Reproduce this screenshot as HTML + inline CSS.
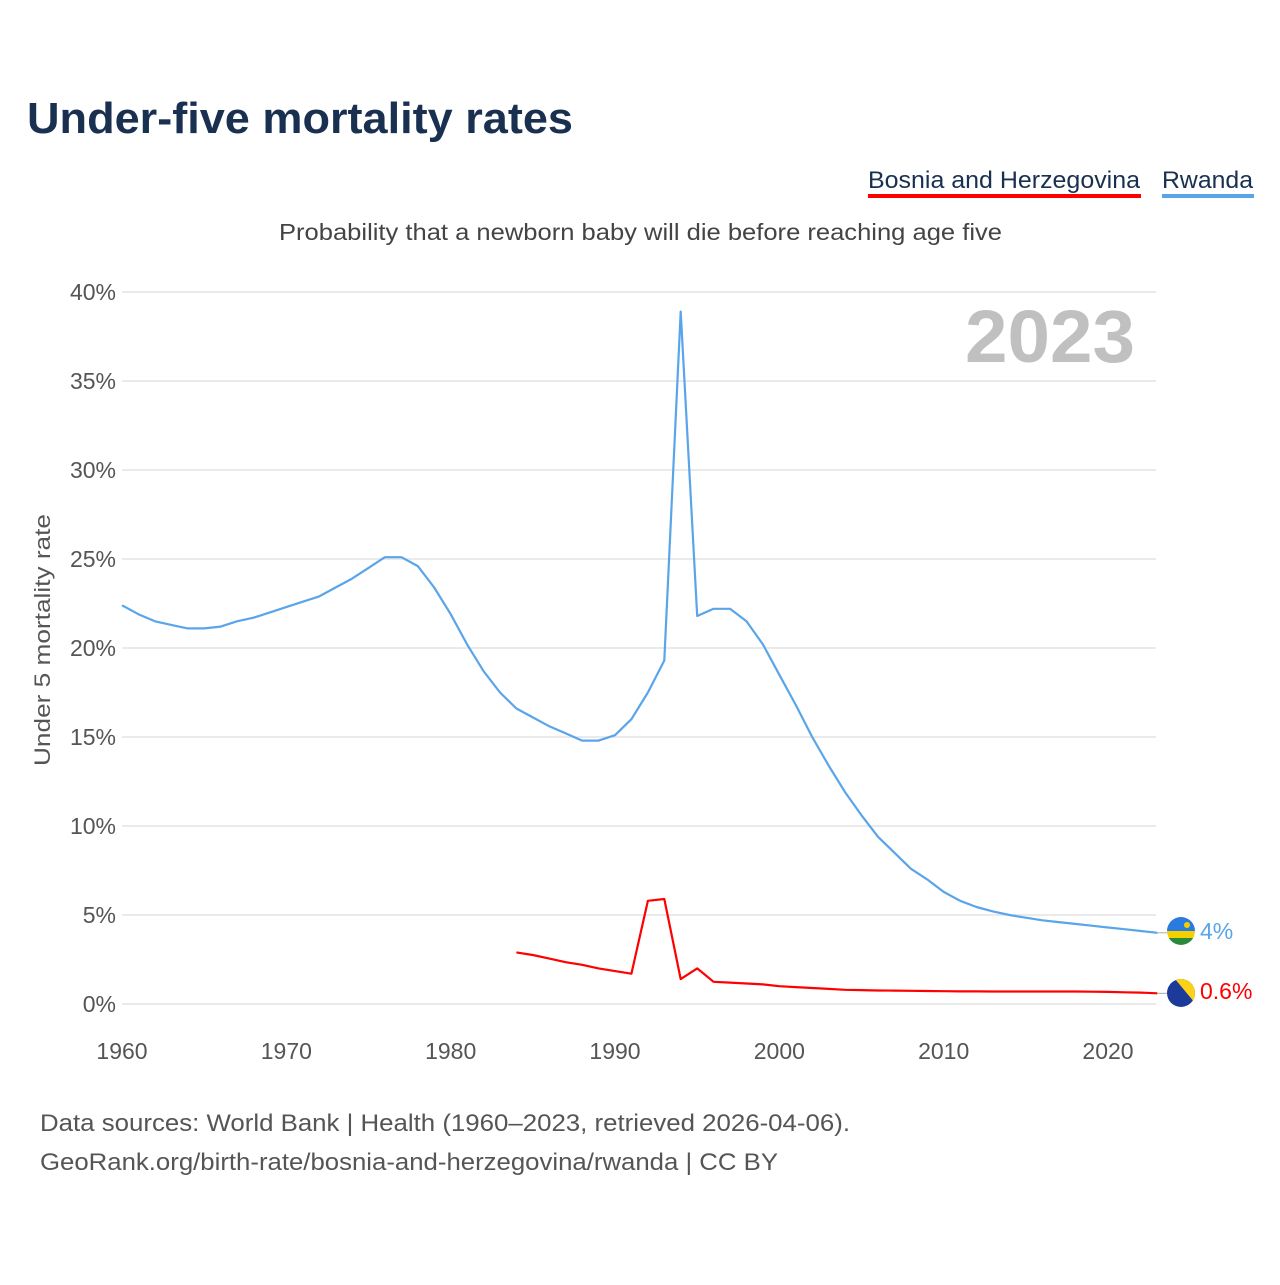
<!DOCTYPE html>
<html><head><meta charset="utf-8"><style>
body{margin:0;background:#fff;font-family:"Liberation Sans",sans-serif;}
svg text{font-family:"Liberation Sans",sans-serif;}
</style></head><body>
<svg width="1280" height="1280" xmlns="http://www.w3.org/2000/svg" id="chart">
<text x="27" y="133" font-size="44" font-weight="bold" fill="#1a3050" textLength="546" lengthAdjust="spacingAndGlyphs">Under-five mortality rates</text>
<g><text x="868" y="188" font-size="24" fill="#1a3050" textLength="272" lengthAdjust="spacingAndGlyphs">Bosnia and Herzegovina</text><rect x="868" y="194" width="273" height="4" fill="#f00"/></g>
<g><text x="1162" y="188" font-size="24" fill="#1a3050" textLength="91" lengthAdjust="spacingAndGlyphs">Rwanda</text><rect x="1162" y="194" width="92" height="4" fill="#5aa5ea"/></g>
<text x="279" y="240" font-size="23" fill="#444" textLength="723" lengthAdjust="spacingAndGlyphs">Probability that a newborn baby will die before reaching age five</text>
<text x="1135" y="362" font-size="74" font-weight="bold" fill="#c0c0c0" text-anchor="end" textLength="170" lengthAdjust="spacingAndGlyphs">2023</text>
<text transform="translate(50,640) rotate(-90)" font-size="22" fill="#555" text-anchor="middle" textLength="252" lengthAdjust="spacingAndGlyphs">Under 5 mortality rate</text>
<g id="grid"></g><g id="xticks"></g><g id="lines"></g>
<g><clipPath id="c1"><circle cx="1181" cy="931" r="14"/></clipPath><g clip-path="url(#c1)"><rect x="1167" y="917" width="28" height="14" fill="#2a7be0"/><rect x="1167" y="931" width="28" height="7" fill="#f5d000"/><rect x="1167" y="938" width="28" height="7" fill="#2a8a3a"/><circle cx="1187" cy="925" r="3" fill="#f5d000"/></g></g>
<g><clipPath id="c2"><circle cx="1181" cy="993" r="14"/></clipPath><g clip-path="url(#c2)"><rect x="1167" y="979" width="28" height="28" fill="#1b3a9a"/><polygon points="1175,979 1195,979 1195,1003" fill="#fcd116"/></g></g>
<text x="1200" y="939" font-size="23" fill="#5aa5ea">4%</text>
<text x="1200" y="999" font-size="23" fill="#f00">0.6%</text>
<text x="40" y="1131" font-size="24" fill="#555" textLength="810" lengthAdjust="spacingAndGlyphs">Data sources: World Bank | Health (1960–2023, retrieved 2026-04-06).</text>
<text x="40" y="1170" font-size="24" fill="#555" textLength="738" lengthAdjust="spacingAndGlyphs">GeoRank.org/birth-rate/bosnia-and-herzegovina/rwanda | CC BY</text>
</svg>
<script>
const yTicks=[0,5,10,15,20,25,30,35,40];
const xTicks=[1960,1970,1980,1990,2000,2010,2020];
const rwandaYears=[];for(let y=1960;y<=2023;y++)rwandaYears.push(y);
const rwandaValues=[22.4,21.9,21.5,21.3,21.1,21.1,21.2,21.5,21.7,22.0,22.3,22.6,22.9,23.4,23.9,24.5,25.1,25.1,24.6,23.4,21.9,20.2,18.7,17.5,16.6,16.1,15.6,15.2,14.8,14.8,15.1,16.0,17.5,19.3,38.9,21.8,22.2,22.2,21.5,20.2,18.5,16.8,15.0,13.4,11.9,10.6,9.4,8.5,7.6,7.0,6.3,5.8,5.45,5.2,5.0,4.85,4.7,4.6,4.5,4.4,4.3,4.2,4.1,4.0];
const bosniaYears=[];for(let y=1984;y<=2023;y++)bosniaYears.push(y);
const bosniaValues=[2.9,2.75,2.55,2.35,2.2,2.0,1.85,1.7,5.8,5.9,1.4,2.0,1.25,1.2,1.15,1.1,1.0,0.95,0.9,0.85,0.8,0.78,0.76,0.75,0.74,0.73,0.72,0.71,0.71,0.7,0.7,0.7,0.7,0.7,0.7,0.69,0.68,0.66,0.64,0.6];
const NS="http://www.w3.org/2000/svg";
const xS=v=>122+(v-1960)*(1108-122)/60;
const yS=v=>1004-v*(1004-292)/40;
function mk(t,a,p){const e=document.createElementNS(NS,t);for(const k in a)e.setAttribute(k,a[k]);document.getElementById(p).appendChild(e);return e;}
yTicks.forEach(t=>{
 const l=mk('line',{x1:122,x2:1156,y1:yS(t),y2:yS(t),stroke:'#e4e4e4','stroke-width':1.5},'grid');
 
 
 const tx=mk('text',{x:116,y:yS(t)+8,'font-size':23,fill:'#555','text-anchor':'end'},'grid');
 tx.textContent=t+'%';
 
 
});
xTicks.forEach(t=>{
 const tx=mk('text',{x:xS(t),y:1059,'font-size':23,fill:'#555','text-anchor':'middle'},'xticks');
 tx.textContent=t;
 
 
});
function line(xs,vs,c,name){
 const d=xs.map((x,i)=>(i?'L':'M')+xS(x).toFixed(1)+','+yS(vs[i]).toFixed(1)).join('');
 const p=mk('path',{d:d,fill:'none',stroke:c,'stroke-width':2.2,'stroke-linejoin':'round'},'lines');
 
 
 const lx=xS(xs[xs.length-1]),ly=yS(vs[vs.length-1]);
 const k=mk('line',{x1:lx,y1:ly,x2:lx+10,y2:ly,stroke:'#aaa','stroke-width':1},'lines');
 
 
}
line(rwandaYears,rwandaValues,'#5aa5ea','rwanda-line');
line(bosniaYears,bosniaValues,'#f00','bosnia-line');
</script>
</body></html>
